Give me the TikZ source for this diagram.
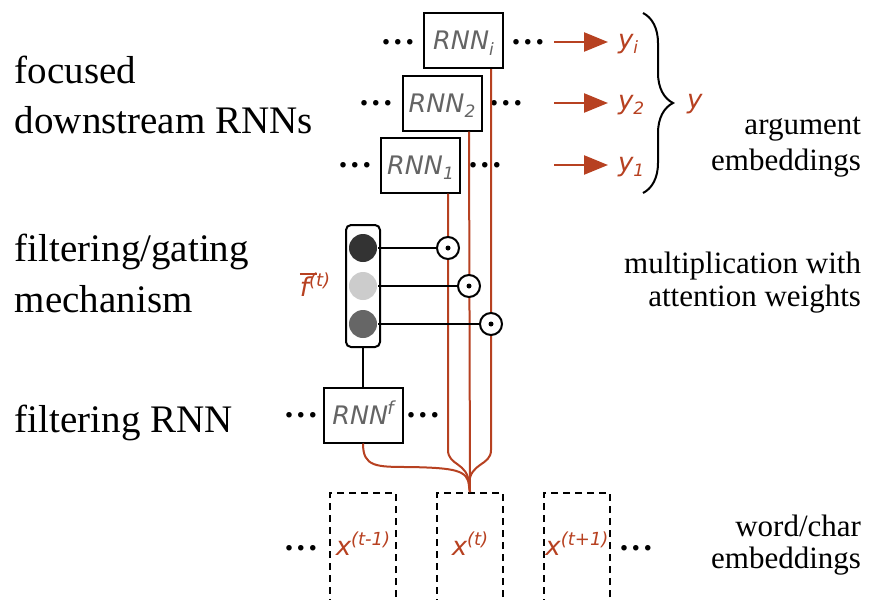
\documentclass[tikz,border=0pt]{standalone}
\usepackage{fontspec}
\setmainfont{Liberation Serif}
\newfontfamily\dvsans{DejaVu Sans}[ItalicFont={DejaVu Sans Oblique},BoldFont={DejaVu Sans Bold}]
\usetikzlibrary{arrows.meta,decorations.pathreplacing}

\definecolor{rust}{RGB}{183,65,33}
\definecolor{labelgray}{RGB}{100,100,100}
\definecolor{lampdark}{RGB}{51,51,51}
\definecolor{lamplight}{RGB}{204,204,204}
\definecolor{lampmid}{RGB}{102,102,102}

% sub- and superscripts that do not change the height of the label
\newcommand\lo[1]{\smash{\raisebox{-5.5pt}{\fontsize{17}{17}\selectfont #1}}}
\newcommand\hi[1]{\smash{\raisebox{10pt}{\fontsize{18}{18}\selectfont #1}}}
\newcommand\threedots{.\kern3.5pt.\kern3.5pt.}
% letter with a thick bar over it
\newcommand\barred[1]{\leavevmode\rlap{\kern0pt\raisebox{21.5pt}{\rule{17pt}{2.2pt}}}#1}

\begin{document}
\begin{tikzpicture}[x=1pt,y=-1pt,line width=2pt,
  rnnbox/.style={draw,line width=2pt,minimum width=79pt,minimum height=55pt,inner sep=0pt,
    text=labelgray,font=\dvsans\itshape\fontsize{25.5}{25.5}\selectfont},
  dotsnode/.style={inner sep=0pt,font=\bfseries\fontsize{34}{34}\selectfont},
  redlbl/.style={text=rust,inner sep=0pt,font=\dvsans\itshape\fontsize{26}{26}\selectfont},
  emb/.style={draw,dash pattern=on 7pt off 5pt,line width=2pt,minimum width=66pt,
    minimum height=110pt,inner sep=0pt,text=rust,font=\dvsans\itshape\fontsize{26}{26}\selectfont},
  lefttxt/.style={anchor=base west,inner sep=0pt,font=\fontsize{39}{39}\selectfont},
  righttxt/.style={anchor=base east,inner sep=0pt,font=\fontsize{31}{31}\selectfont},
  gatebox/.style={draw,rounded corners=5pt,line width=2pt,minimum width=34pt,minimum height=122pt,inner sep=0pt},
  lamp/.style={circle,minimum size=28pt,inner sep=0pt},
  odotnode/.style={circle,draw,fill=white,line width=2pt,minimum size=22pt,inner sep=0pt},
  redline/.style={draw=rust,line width=2pt},
  arr/.style={draw=rust,line width=2.5pt,-{Triangle[length=24pt,width=19pt,fill=rust]},shorten >=9pt}
]
\path[use as bounding box] (0,0) rectangle (871,600);
\clip (0,0) rectangle (871,600);

% ---- left-hand captions
\node[lefttxt] (capA1) at (14,83) {focused};
\node[lefttxt] (capA2) at (14,133) {downstream RNNs};
\node[lefttxt] (capB1) at (14,261) {filtering/gating};
\node[lefttxt] (capB2) at (14,312) {mechanism};
\node[lefttxt] (capC) at (14,432) {filtering RNN};

% ---- right-hand captions
\node[righttxt] (capD1) at (862,134) {argument};
\node[righttxt] (capD2) at (862,170) {embeddings};
\node[righttxt] (capE1) at (862,273) {multiplication with};
\node[righttxt] (capE2) at (862,306) {attention weights};
\node[righttxt] (capF1) at (862,536) {word/char};
\node[righttxt] (capF2) at (862,568) {embeddings};

% ---- focused downstream RNNs
\node[rnnbox] (rnni) at (463.5,40.5) {RNN\lo{i}};
\node[rnnbox] (rnn2) at (442,103) {RNN\lo{2}};
\node[rnnbox] (rnn1) at (420.5,165) {RNN\lo{1}};

\node[dotsnode] (dil) at (398,42) {\threedots};
\node[dotsnode] (dir) at (528,42) {\threedots};
\node[dotsnode] (d2l) at (376,103) {\threedots};
\node[dotsnode] (d2r) at (506,103) {\threedots};
\node[dotsnode] (d1l) at (355,165) {\threedots};
\node[dotsnode] (d1r) at (485,165) {\threedots};

% outputs
\node[redlbl,anchor=base west] (yi) at (617,48) {y\lo{i}};
\node[redlbl,anchor=base west] (y2) at (617,109) {y\lo{2}};
\node[redlbl,anchor=base west] (y1) at (617,171) {y\lo{1}};
\coordinate (ai) at (554,42);
\coordinate (a2) at (554,103);
\coordinate (a1) at (554,165);
\draw[arr] (ai) -- (ai -| yi.west);
\draw[arr] (a2) -- (a2 -| y2.west);
\draw[arr] (a1) -- (a1 -| y1.west);

\coordinate (brTop) at (643,13);
\coordinate (brBot) at (643,193);
\draw[decorate,decoration={brace,amplitude=30pt}] (brTop) -- (brBot);
\node[redlbl,anchor=base west] (yall) at (686,108) {y};

% ---- word/char embeddings
\node[emb] (xprev) at (363,548) {x\hi{(t-1)}};
\node[emb] (xcur) at (470,548) {x\hi{(t)}};
\node[emb] (xnext) at (577,548) {x\hi{(t+1)}};
\node[dotsnode] (dxl) at (301,548) {\threedots};
\node[dotsnode] (dxr) at (636,548) {\threedots};

% ---- filtering RNN
\node[rnnbox] (rnnf) at (363,415) {RNN\hi{\kern-1pt f}};
\node[dotsnode] (dfl) at (301,415) {\threedots};
\node[dotsnode] (dfr) at (423,415) {\threedots};

% ---- gate and multiplication points
\node[gatebox] (gate) at (363,286) {};
\node[lamp,fill=lampdark] (l1) at (363,248) {};
\node[lamp,fill=lamplight] (l2) at (363,286) {};
\node[lamp,fill=lampmid] (l3) at (363,324) {};
\node[redlbl] (fbar) at (315,285) {\barred{f}\hi{(t)}};

\coordinate (o1c) at (448,248);
\coordinate (o2c) at (469,286);
\coordinate (o3c) at (491,324);

% input streams from x(t) and from the filtering RNN
\draw[redline] (rnn1.south -| o1c) -- (448,450)
   .. controls (448,466) and (468,462) .. (469,484) -- (xcur.north);
\draw[redline] (rnn2.south -| o2c) -- (xcur.north);
\draw[redline] (rnni.south -| o3c) -- (491,450)
   .. controls (491,466) and (470,462) .. (469,484) -- (xcur.north);
\draw[redline] (rnnf.south) .. controls (363,467) and (376,467) .. (410,467)
   .. controls (455,468) and (468,470) .. (469,486) -- (xcur.north);

\draw (gate.south) -- (rnnf.north);

\node[odotnode] (o1) at (o1c) {};
\node[odotnode] (o2) at (o2c) {};
\node[odotnode] (o3) at (o3c) {};
\fill (o1) circle (2.5pt);
\fill (o2) circle (2.5pt);
\fill (o3) circle (2.5pt);

\draw (l1.east) -- (o1.west);
\draw (l2.east) -- (o2.west);
\draw (l3.east) -- (o3.west);
\end{tikzpicture}
\end{document}
